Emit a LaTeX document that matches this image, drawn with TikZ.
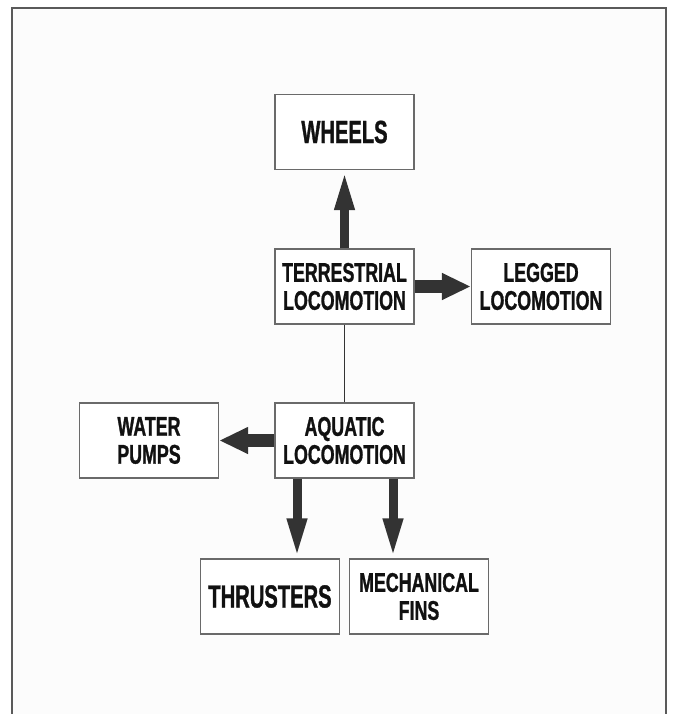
\documentclass[tikz,border=0pt]{standalone}
\usepackage{fontspec}
\setmainfont{Liberation Sans}
\newfontfamily\condfont[FakeStretch=0.66,FakeBold=1]{Liberation Sans}
\newfontfamily\condbigfont[FakeStretch=0.63,FakeBold=1]{Liberation Sans}
\usetikzlibrary{arrows.meta}
\definecolor{boxline}{HTML}{6A6A6A}
\definecolor{arrowcol}{HTML}{333333}
\definecolor{framecol}{HTML}{5A5A5A}
\definecolor{txt}{HTML}{111111}
\begin{document}
\begin{tikzpicture}[x=1pt,y=-1pt,
  blk/.style={draw=boxline,line width=1.3pt,fill=white,minimum width=139pt,minimum height=75pt,
    inner sep=0pt,align=center,text=txt,font=\condfont\bfseries\fontsize{27}{28}\selectfont},
  bigblk/.style={blk,font=\condbigfont\bfseries\fontsize{32}{34}\selectfont},
  vthick/.style={draw=arrowcol,line width=9pt,-{Triangle[length=40pt,width=18pt]}},
  hthick/.style={draw=arrowcol,line width=12.5pt,-{Triangle[length=29pt,width=25pt]}}]
\useasboundingbox (0,0) rectangle (679,714);
\fill[white] (0,0) rectangle (679,714);
\fill[black!1] (12,8) rectangle (666,714);
\draw[framecol,line width=1.2pt] (12,714) -- (12,8) -- (666,8) -- (666,714);
\node[bigblk] (wheels) at (344.5,132) {WHEELS};
\node[blk] (terr) at (344.5,286.5) {TERRESTRIAL\\LOCOMOTION};
\node[blk] (legged) at (541,286.5) {LEGGED\\LOCOMOTION};
\node[blk] (aqua) at (344.5,440.5) {AQUATIC\\LOCOMOTION};
\node[blk] (water) at (149,440.5) {WATER\\PUMPS};
\node[bigblk] (thr) at (270,596.5) {THRUSTERS};
\node[blk] (fins) at (419,596.5) {MECHANICAL\\FINS};
\draw[vthick] (terr.north) -- (wheels.south);
\draw[hthick] (terr.east) -- (legged.west);
\draw[hthick] (aqua.west) -- (water.west -| water.east);
\draw[arrowcol,line width=1.2pt] (terr.south) -- (aqua.north);
\coordinate (c1) at (297,0);
\coordinate (c2) at (393,0);
\draw[vthick] (aqua.south -| c1) -- (thr.north -| c1);
\draw[vthick] (aqua.south -| c2) -- (fins.north -| c2);
\end{tikzpicture}
\end{document}
